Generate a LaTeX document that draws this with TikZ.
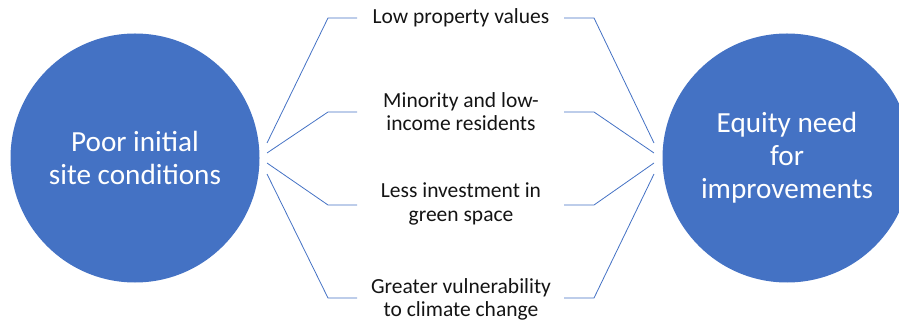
\documentclass[tikz,border=0pt]{standalone}
\usepackage{fontspec}
\setmainfont{Carlito}
\definecolor{obl}{HTML}{4472C4}
\definecolor{txt}{HTML}{141414}
\begin{document}
\begin{tikzpicture}[x=1pt,y=-1pt,
  bigc/.style={circle,fill=obl,inner sep=0pt,minimum size=249pt,text=white,align=center,font=\fontsize{29.2}{32.8}\selectfont},
  item/.style={align=center,text=txt,font=\fontsize{21.5}{23.5}\selectfont,inner sep=0pt},
  conn/.style={obl,line width=0.8pt}]
\useasboundingbox (0,0) rectangle (899,320);
\clip (0,0) rectangle (899,320);
\node[bigc] (L) at (135,158) {Poor initial\\site conditions};
\node[bigc] (R) at (787,158) {Equity need\\for\\improvements};
\node[item] (a) at (461,18) {Low property values};
\node[item] (b) at (461,111.5) {Minority and low-\\income residents};
\node[item] (c) at (461,204) {Less investment in\\green space};
\node[item] (d) at (461,299.5) {Greater vulnerability\\to climate change};
\coordinate (la) at (267,143);
\coordinate (lb) at (267,153);
\coordinate (lc) at (267,163);
\coordinate (ld) at (267,174);
\coordinate (ra) at (654,143);
\coordinate (rb) at (654,153);
\coordinate (rc) at (654,163);
\coordinate (rd) at (654,174);
\draw[conn] (la) -- (328,18) -- (357,18);
\draw[conn] (lb) -- (328,112) -- (357,112);
\draw[conn] (lc) -- (328,205) -- (357,205);
\draw[conn] (ld) -- (328,298) -- (357,298);
\draw[conn] (ra) -- (594,18) -- (564,18);
\draw[conn] (rb) -- (594,112) -- (564,112);
\draw[conn] (rc) -- (594,205) -- (564,205);
\draw[conn] (rd) -- (594,298) -- (564,298);
\end{tikzpicture}
\end{document}
